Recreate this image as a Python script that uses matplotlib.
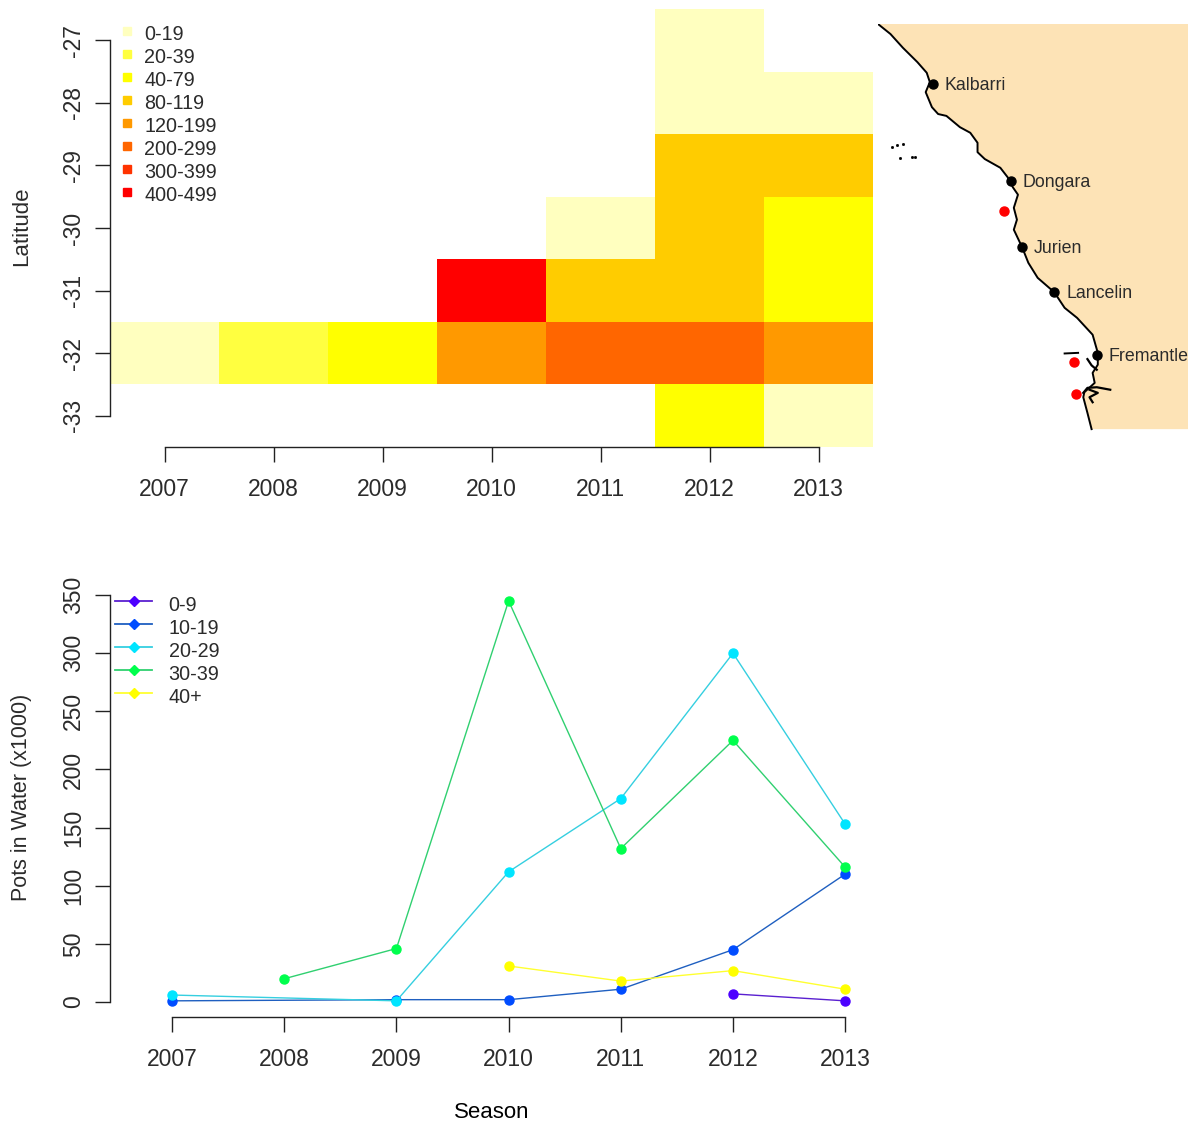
import numpy as np
import matplotlib
matplotlib.use("Agg")
import matplotlib.pyplot as plt
from matplotlib.colors import ListedColormap
from matplotlib.lines import Line2D

plt.rcParams['font.family'] = ['Liberation Sans', 'DejaVu Sans']
plt.rcParams['text.color'] = '#2b2b2b'
plt.rcParams['axes.unicode_minus'] = False

W, H = 1192, 1122

# top panel: effort class per latitude (rows) and season (columns), -1 = no data
heat_years = [2007, 2008, 2009, 2010, 2011, 2012, 2013]
heat_lats = [-27, -28, -29, -30, -31, -32, -33]
heat_classes = [
    [-1, -1, -1, -1, -1, 0, -1],
    [-1, -1, -1, -1, -1, 0, 0],
    [-1, -1, -1, -1, -1, 3, 3],
    [-1, -1, -1, -1, 0, 3, 2],
    [-1, -1, -1, 7, 3, 3, 2],
    [0, 1, 2, 4, 5, 5, 4],
    [-1, -1, -1, -1, -1, 2, 0],
]
class_labels = ['0-19', '20-39', '40-79', '80-119', '120-199', '200-299', '300-399', '400-499']
class_colors = ['#FFFFBF', '#FFFF40', '#FFFF00', '#FFCC00', '#FF9900', '#FF6600', '#FF3300', '#FF0000']

# map
coast_lon = [113.64, 113.76, 113.88, 114.02, 114.11, 114.14, 114.10, 114.16, 114.22, 114.30,
             114.43, 114.53, 114.60, 114.60, 114.67, 114.82, 114.89, 114.94, 114.99, 114.95,
             114.98, 114.95, 115.03, 115.09, 115.18, 115.34, 115.44, 115.56, 115.71, 115.76,
             115.76, 115.71, 115.73, 115.63, 115.62, 115.66, 115.70]
coast_lat = [-26.73, -26.89, -27.11, -27.34, -27.51, -27.66, -27.82, -28.06, -28.17, -28.20,
             -28.38, -28.47, -28.63, -28.78, -28.89, -29.03, -29.18, -29.34, -29.46, -29.67,
             -29.86, -30.02, -30.30, -30.55, -30.79, -31.02, -31.27, -31.43, -31.70, -31.99,
             -32.18, -32.31, -32.47, -32.62, -32.70, -32.95, -33.21]
rottnest_lon = [115.44, 115.57]
rottnest_lat = [-32.00, -31.99]
cockburn_lon = [115.66, 115.70, 115.75]
cockburn_lat = [-32.09, -32.19, -32.26]
peel_lon = [115.62, 115.66, 115.75, 115.88]
peel_lat = [-32.63, -32.55, -32.54, -32.58]
harvey_lon = [115.68, 115.76, 115.68, 115.71]
harvey_lat = [-32.58, -32.63, -32.70, -32.78]
island_lon = [113.775, 113.82, 113.88, 113.85, 113.97, 114.00]
island_lat = [-28.70, -28.66, -28.65, -28.87, -28.86, -28.86]
town_names = ['Kalbarri', 'Dongara', 'Jurien', 'Lancelin', 'Fremantle']
town_lon = [114.17, 114.92, 115.03, 115.34, 115.75]
town_lat = [-27.69, -29.24, -30.30, -31.02, -32.02]
red_lon = [114.86, 115.53, 115.55]
red_lat = [-29.72, -32.14, -32.65]

# bottom panel
seasons = [2007, 2008, 2009, 2010, 2011, 2012, 2013]
depth_labels = ['0-9', '10-19', '20-29', '30-39', '40+']
depth_colors = ['#4C00FF', '#004CFF', '#00E5FF', '#00FF4D', '#FFFF00']
depth_line_colors = ['#5A20D0', '#1F5FC0', '#35CFE0', '#30D070', '#FFFF30']
depth_years = [
    [2012, 2013],
    [2007, 2009, 2010, 2011, 2012, 2013],
    [2007, 2009, 2010, 2011, 2012, 2013],
    [2008, 2009, 2010, 2011, 2012, 2013],
    [2010, 2011, 2012, 2013],
]
depth_pots = [
    [7, 1],
    [1, 2, 2, 11, 45, 110],
    [6, 1, 112, 175, 300, 153],
    [20, 46, 345, 132, 225, 116],
    [31, 18, 27, 11],
]


def px_axes(fig, left, top, right, bottom):
    return fig.add_axes([left / W, 1 - bottom / H, (right - left) / W, (bottom - top) / H])


def r_axes(ax, xticks, yticks):
    for s in ['top', 'right']:
        ax.spines[s].set_visible(False)
    ax.spines['left'].set_bounds(yticks[0], yticks[-1])
    ax.spines['bottom'].set_bounds(xticks[0], xticks[-1])
    for s in ['left', 'bottom']:
        ax.spines[s].set_color('#222222')
        ax.spines[s].set_linewidth(1.0)
    ax.set_xticks(xticks)
    ax.set_yticks(yticks)
    ax.tick_params(axis='x', length=10.5, width=1.0, labelsize=16.5, pad=12, color='#222222', labelcolor='#2b2b2b')
    ax.tick_params(axis='y', length=10.5, width=1.0, labelsize=16.5, pad=7.5, color='#222222', labelcolor='#2b2b2b')
    for lab in ax.get_yticklabels():
        lab.set_rotation(90)
        lab.set_va('center')


def raise_handles(leg, dy):
    # the original legend symbols sit a little above the text baseline
    for h in leg.legend_handles:
        h.set_ydata(np.asarray(h.get_ydata(), dtype=float) + dy)


fig = plt.figure(figsize=(W / 100, H / 100), dpi=100)

# heat map
ax1 = px_axes(fig, 110, 9, 873, 447)
grid = np.ma.masked_less(np.array(heat_classes), 0)
x_edges = np.arange(heat_years[0] - 0.5, heat_years[-1] + 1)
y_edges = np.arange(heat_lats[0] + 0.5, heat_lats[-1] - 1, -1)
ax1.pcolormesh(x_edges, y_edges, grid, cmap=ListedColormap(class_colors), vmin=-0.5, vmax=7.5)
ax1.set_xlim(2006.5, 2013.5)
ax1.set_ylim(-33.5, -26.5)
r_axes(ax1, heat_years, heat_lats[::-1])
fig.text(22 / W, 1 - 226.5 / H, 'Latitude', rotation=90, ha='center', va='center', fontsize=16)
handles = [Line2D([], [], ls='none', marker='s', ms=6, mfc=c, mec=c) for c in class_colors]
leg1 = ax1.legend(handles, class_labels, loc='upper left', bbox_to_anchor=(-3 / 763, 1 - 12 / 438), frameon=False,
                  fontsize=14.2, handletextpad=0.1, labelspacing=0.2, borderpad=0.2, borderaxespad=0,
                  handlelength=1.6, labelcolor='#2b2b2b')
raise_handles(leg1, 1.5)

# coastline map
ax_map = px_axes(fig, 878, 24, 1188, 431)
ax_map.fill(coast_lon + [116.63, 116.63], coast_lat + [-33.21, -26.73], color='#FDE3B6', lw=0)
ax_map.plot(coast_lon, coast_lat, color='black', lw=1.4, solid_joinstyle='round')
ax_map.plot(rottnest_lon, rottnest_lat, color='black', lw=1.4)
ax_map.plot(cockburn_lon, cockburn_lat, color='black', lw=1.6)
ax_map.plot(peel_lon, peel_lat, color='black', lw=1.6)
ax_map.plot(harvey_lon, harvey_lat, color='black', lw=1.6)
ax_map.plot(island_lon, island_lat, ls='none', marker='s', ms=1.0, color='black')
ax_map.plot(town_lon, town_lat, ls='none', marker='o', ms=6.5, color='black')
ax_map.plot(red_lon, red_lat, ls='none', marker='o', ms=6.5, color='red')
for name, lon, lat in zip(town_names, town_lon, town_lat):
    ax_map.annotate(name, (lon, lat), xytext=(8.5, -1.2), textcoords='offset points', va='center',
                    fontsize=12.8, annotation_clip=False)
ax_map.set_xlim(113.64, 116.63)
ax_map.set_ylim(-33.24, -26.73)
ax_map.axis('off')

# pots in water
ax2 = px_axes(fig, 110, 580, 873, 1017)
for years, pots, color, line_color in zip(depth_years, depth_pots, depth_colors, depth_line_colors):
    ax2.plot(years, pots, color=line_color, lw=1.0, marker='o', ms=6.5, mfc=color, mec=color)
ax2.set_xlim(2006.447, 2013.248)
ax2.set_ylim(-12.9, 363)
r_axes(ax2, seasons, [0, 50, 100, 150, 200, 250, 300, 350])
ax2.set_xlabel('Season', fontsize=16, labelpad=22)
fig.text(22 / W, 1 - 797 / H, 'Pots in Water (x1000)', rotation=90, ha='center', va='center', fontsize=15.5)
handles2 = [Line2D([], [], color=lc, lw=1.3, marker='D', ms=5, mfc=c, mec=c)
            for c, lc in zip(depth_colors, depth_line_colors)]
leg2 = ax2.legend(handles2, depth_labels, loc='upper left', bbox_to_anchor=(1 / 763, 1 - 12 / 437), frameon=False,
                  fontsize=14.2, handlelength=1.9, handletextpad=0.82, labelspacing=0.2, borderpad=0.2,
                  borderaxespad=0, labelcolor='#2b2b2b')
raise_handles(leg2, 2)

fig.savefig('out.png', dpi=100)
